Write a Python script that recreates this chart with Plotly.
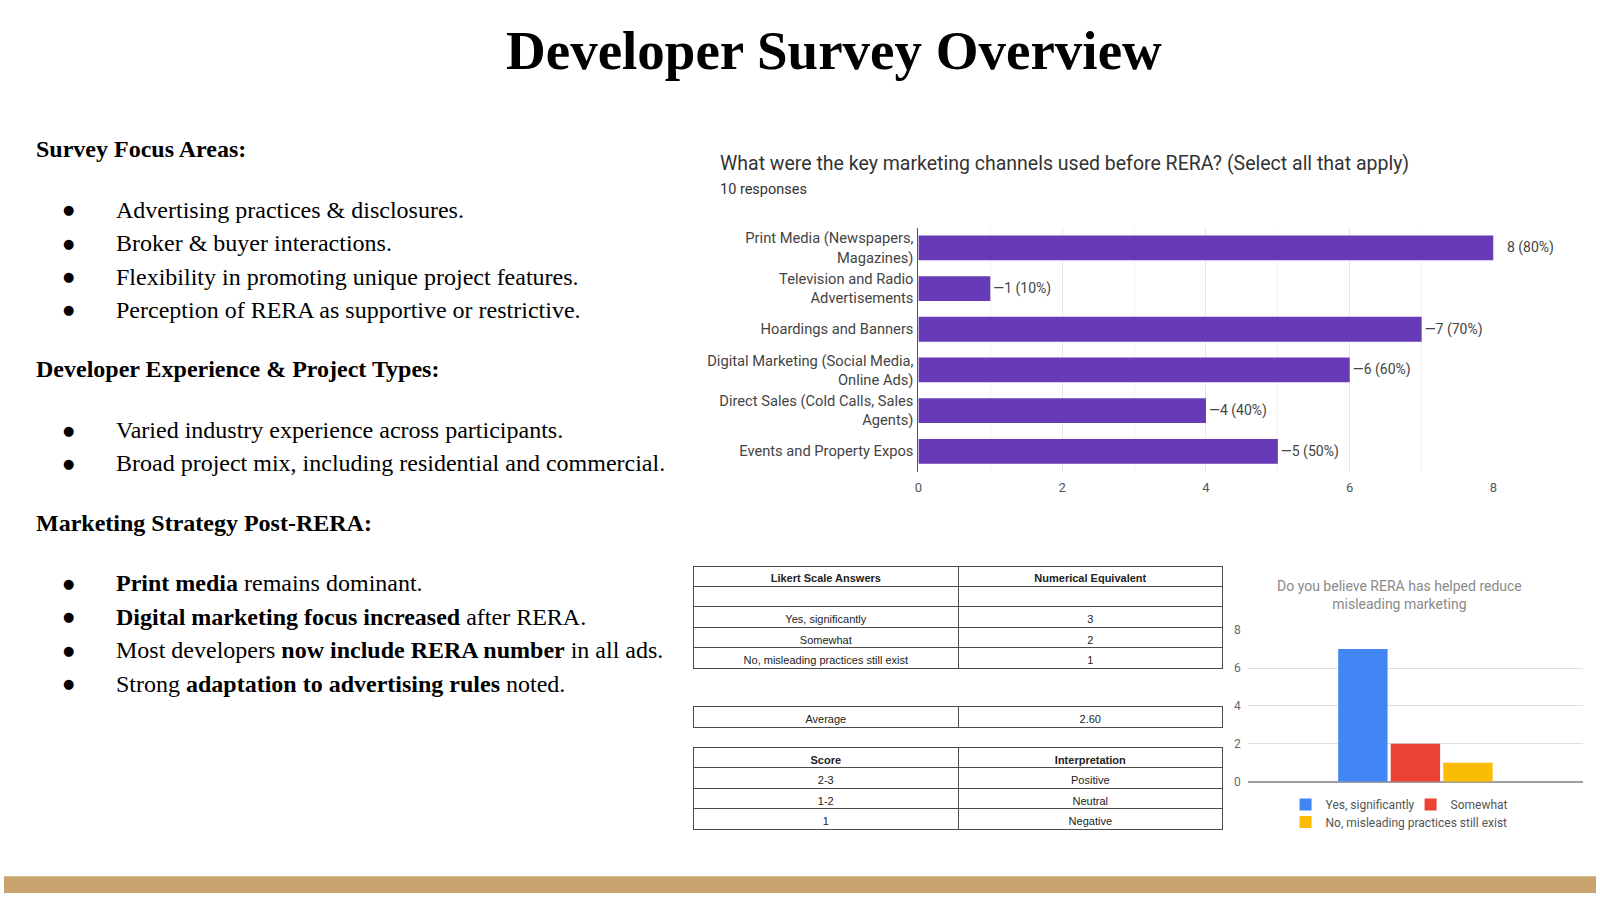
import plotly.graph_objects as go

W, H = 1600, 900


def fx(px):
    return px / W


def fy(py):
    return 1 - py / H


# ---------------- data ----------------
slide_title = "Developer Survey Overview"

section_headings = [
    "Survey Focus Areas:",
    "Developer Experience & Project Types:",
    "Marketing Strategy Post-RERA:",
]
section_bullets = [
    [
        "Advertising practices & disclosures.",
        "Broker & buyer interactions.",
        "Flexibility in promoting unique project features.",
        "Perception of RERA as supportive or restrictive.",
    ],
    [
        "Varied industry experience across participants.",
        "Broad project mix, including residential and commercial.",
    ],
    [
        "<b>Print media</b> remains dominant.",
        "<b>Digital marketing focus increased</b> after RERA.",
        "Most developers <b>now include RERA number</b> in all ads.",
        "Strong <b>adaptation to advertising rules</b> noted.",
    ],
]

channels_title = "What were the key marketing channels used before RERA? (Select all that apply)"
n_responses = 10
channels = [
    "Print Media (Newspapers, Magazines)",
    "Television and Radio Advertisements",
    "Hoardings and Banners",
    "Digital Marketing (Social Media, Online Ads)",
    "Direct Sales (Cold Calls, Sales Agents)",
    "Events and Property Expos",
]
channel_ticktext = [
    "Print Media (Newspapers,<br>Magazines)",
    "Television and Radio<br>Advertisements",
    "Hoardings and Banners",
    "Digital Marketing (Social Media,<br>Online Ads)",
    "Direct Sales (Cold Calls, Sales<br>Agents)",
    "Events and Property Expos",
]
channel_counts = [8, 1, 7, 6, 4, 5]
channel_xticks = [0, 2, 4, 6, 8]

rera_title = "Do you believe RERA has helped reduce<br>misleading marketing"
answers = ["Yes, significantly", "Somewhat", "No, misleading practices still exist"]
answer_counts = [7, 2, 1]
answer_scores = [3, 2, 1]
answer_colors = ["#4285F4", "#EA4335", "#FBBC04"]
rera_yticks = [0, 2, 4, 6, 8]

likert_header = ["Likert Scale Answers", "Numerical Equivalent"]
score_header = ["Score", "Interpretation"]
score_ranges = ["2-3", "1-2", "1"]
interpretations = ["Positive", "Neutral", "Negative"]

average_score = sum(c * s for c, s in zip(answer_counts, answer_scores)) / sum(answer_counts)

# ---------------- figure ----------------
fig = go.Figure()

serif = "Liberation Serif"
sans = "Roboto"
tbl_font = "Liberation Sans"

# Bar chart 1 (horizontal)
xmax = channel_xticks[-1]
bar_text = []
for v in channel_counts:
    label = f"{v} ({round(100 * v / n_responses)}%)"
    bar_text.append(("\u00a0\u00a0\u00a0" if v >= xmax else "\u2014") + label)

fig.add_trace(go.Bar(
    y=channels, x=channel_counts, orientation="h",
    marker=dict(color="#673AB7", line=dict(width=0)),
    width=0.61,
    text=bar_text, textposition="outside", cliponaxis=False, constraintext="none",
    textfont=dict(family=sans, size=14, color="#444444"),
    xaxis="x", yaxis="y", showlegend=False, hoverinfo="skip",
))

# Bar chart 2 (grouped, one category)
for i, (name, cnt, col) in enumerate(zip(answers, answer_counts, answer_colors)):
    fig.add_trace(go.Bar(
        x=["RERA"], y=[cnt], name=name,
        marker=dict(color=col, line=dict(width=0)),
        xaxis="x2", yaxis="y2",
        legend="legend" if i < 2 else "legend2",
        hoverinfo="skip",
    ))

# Tables
line_style = dict(color="#4a4a4a", width=1)
cell_font = dict(family=tbl_font, size=11, color="#222222")
bold_font = dict(family=tbl_font, size=11, color="#222222", weight="bold")
fig.add_trace(go.Table(
    domain=dict(x=[fx(693), fx(1225)], y=[fy(680), fy(568)]),
    columnwidth=[1, 1],
    header=dict(values=likert_header, height=20.4, align="center", line=line_style,
                fill=dict(color="white"), font=bold_font),
    cells=dict(values=[[""] + answers, [""] + [str(s) for s in answer_scores]],
               height=20.4, align="center", line=line_style, fill=dict(color="white"),
               font=cell_font),
))
fig.add_trace(go.Table(
    domain=dict(x=[fx(693), fx(1225)], y=[fy(742), fy(711)]),
    columnwidth=[1, 1],
    header=dict(values=["Average", f"{average_score:.2f}"],
                height=21, align="center", line=line_style, fill=dict(color="white"),
                font=cell_font),
    cells=dict(values=[[], []], height=20, line=line_style),
))
fig.add_trace(go.Table(
    domain=dict(x=[fx(693), fx(1225)], y=[fy(846), fy(752)]),
    columnwidth=[1, 1],
    header=dict(values=score_header, height=20.5, align="center", line=line_style,
                fill=dict(color="white"), font=bold_font),
    cells=dict(values=[score_ranges, interpretations],
               height=20.5, align="center", line=line_style, fill=dict(color="white"),
               font=cell_font),
))

# ---------------- annotations ----------------
annotations = []
annotations.append(dict(
    text=f"<b>{slide_title}</b>", x=fx(834), y=fy(44), xref="paper", yref="paper",
    xanchor="center", yanchor="middle", showarrow=False,
    font=dict(family=serif, size=55, color="#000000"),
))

y = 144.5
for heading, bullets in zip(section_headings, section_bullets):
    annotations.append(dict(
        text=f"<b>{heading}</b>", x=fx(30.5), y=fy(y), xref="paper", yref="paper",
        xanchor="left", yanchor="middle", showarrow=False,
        font=dict(family=serif, size=24, color="#000000"),
    ))
    y += 61.5
    for k, b in enumerate(bullets):
        if k:
            y += 33.9
        annotations.append(dict(
            text="\u25cf", x=fx(65), y=fy(y), xref="paper", yref="paper",
            xanchor="center", yanchor="middle", showarrow=False,
            font=dict(family="DejaVu Sans", size=13, color="#000000"),
        ))
        annotations.append(dict(
            text=b, x=fx(111), y=fy(y), xref="paper", yref="paper",
            xanchor="left", yanchor="middle", showarrow=False,
            font=dict(family=serif, size=24, color="#000000"),
        ))
    y += 60.5

annotations.append(dict(
    text=channels_title, x=fx(718), y=fy(159), xref="paper", yref="paper",
    xanchor="left", yanchor="middle", showarrow=False,
    font=dict(family=sans, size=19.5, color="#333333"),
))
annotations.append(dict(
    text=f"{n_responses} responses", x=fx(718), y=fy(185), xref="paper", yref="paper",
    xanchor="left", yanchor="middle", showarrow=False,
    font=dict(family=sans, size=14.5, color="#333333"),
))
annotations.append(dict(
    text=rera_title, x=fx(1403), y=fy(597), xref="paper", yref="paper",
    xanchor="center", yanchor="middle", showarrow=False,
    font=dict(family=sans, size=14, color="#8a8a8a"),
))

fig.update_layout(
    width=W, height=H,
    margin=dict(l=0, r=0, t=0, b=0),
    paper_bgcolor="white", plot_bgcolor="white",
    barmode="group", bargap=0.53, bargroupgap=0.06,
    annotations=annotations,
    xaxis=dict(
        domain=[fx(919), fx(1497)], range=[0, xmax], tickvals=channel_xticks,
        showgrid=True, gridcolor="#e8e8e8", gridwidth=1,
        minor=dict(dtick=1, showgrid=True, gridcolor="#f2f2f2"),
        zeroline=False, showline=False, ticks="", anchor="y",
        tickfont=dict(family=sans, size=13, color="#555555"), ticklabelstandoff=6,
        fixedrange=True,
    ),
    yaxis=dict(
        domain=[fy(472), fy(224)], categoryorder="array", categoryarray=channels,
        tickvals=channels, ticktext=channel_ticktext, autorange="reversed",
        showline=True, linecolor="#555555", linewidth=1, showgrid=False,
        zeroline=False, ticks="", anchor="x",
        tickfont=dict(family=sans, size=14.7, color="#444444"), ticklabelstandoff=1,
    ),
    xaxis2=dict(
        domain=[fx(1250), fx(1587)], showticklabels=False, showgrid=False,
        zeroline=False, showline=False, ticks="", anchor="y2",
    ),
    yaxis2=dict(
        domain=[fy(787), fy(633)], range=[0, 8], tickvals=rera_yticks,
        showgrid=True, gridcolor="#dedede", zeroline=True, zerolinecolor="#9e9e9e",
        zerolinewidth=1.5, showline=False, ticks="", anchor="x2",
        tickfont=dict(family=sans, size=12, color="#666666"), ticklabelstandoff=6,
    ),
    legend=dict(
        orientation="h", x=fx(1288), y=fy(810), xanchor="left", yanchor="middle",
        font=dict(family=sans, size=12, color="#555555"), bgcolor="rgba(0,0,0,0)",
        entrywidth=80, entrywidthmode="pixels",
        itemclick=False, itemdoubleclick=False,
    ),
    legend2=dict(
        orientation="h", x=fx(1288), y=fy(828), xanchor="left", yanchor="middle",
        font=dict(family=sans, size=12, color="#555555"), bgcolor="rgba(0,0,0,0)",
        itemclick=False, itemdoubleclick=False,
    ),
    shapes=[dict(
        type="rect", xref="paper", yref="paper", x0=0, x1=1, y0=0, y1=fy(883),
        fillcolor="#C9A46F", line=dict(width=0), layer="below",
    )],
)

page_fix = (
    "document.documentElement.style.margin='0';"
    "document.documentElement.style.overflow='hidden';"
    "document.body.style.margin='0';"
    "document.body.style.overflow='hidden';"
    "var gdp=document.getElementById('{plot_id}').parentElement;"
    "gdp.style.height='900px';gdp.style.width='1600px';gdp.style.overflow='hidden';"
)

fig.write_html(
    "out.html",
    config={"displayModeBar": False},
    post_script=page_fix,
)
